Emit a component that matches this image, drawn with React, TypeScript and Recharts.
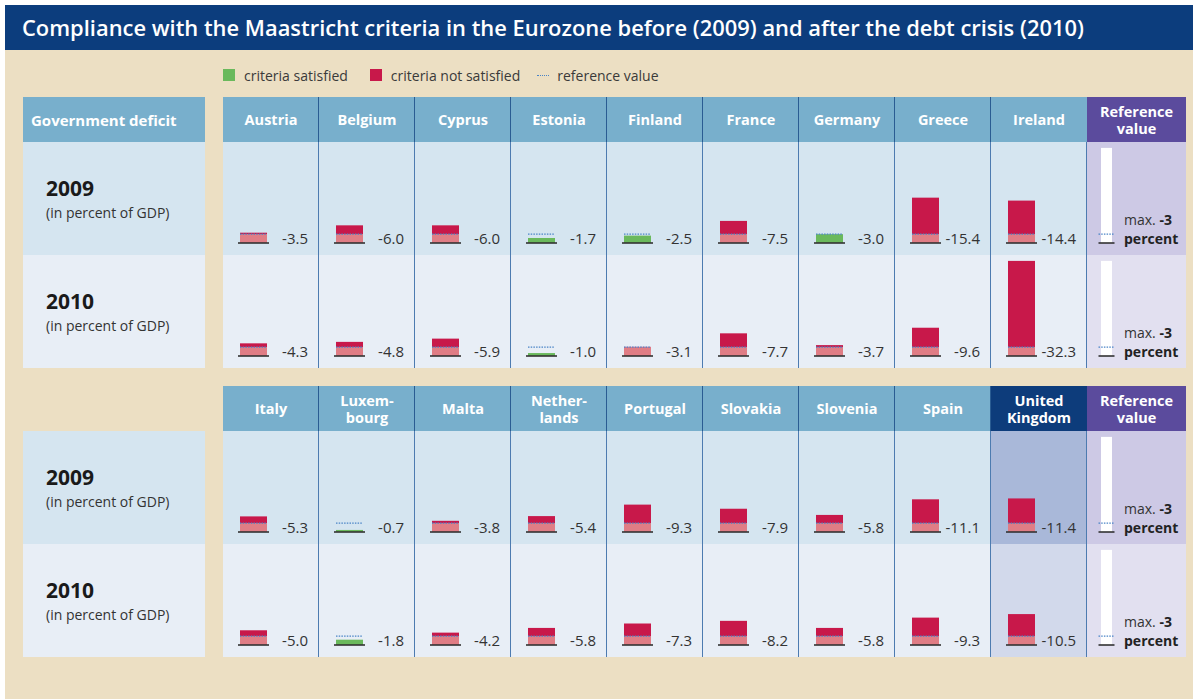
import React from 'react';
import { BarChart, Bar, XAxis, YAxis, LabelList } from 'recharts';

// ---------- data ----------
const topCountries = ['Austria', 'Belgium', 'Cyprus', 'Estonia', 'Finland', 'France', 'Germany', 'Greece', 'Ireland'];
const top2009 = [-3.5, -6.0, -6.0, -1.7, -2.5, -7.5, -3.0, -15.4, -14.4];
const top2010 = [-4.3, -4.8, -5.9, -1.0, -3.1, -7.7, -3.7, -9.6, -32.3];

const bottomCountries = ['Italy', 'Luxem-\nbourg', 'Malta', 'Nether-\nlands', 'Portugal', 'Slovakia', 'Slovenia', 'Spain', 'United\nKingdom'];
const bottom2009 = [-5.3, -0.7, -3.8, -5.4, -9.3, -7.9, -5.8, -11.1, -11.4];
const bottom2010 = [-5.0, -1.8, -4.2, -5.8, -7.3, -8.2, -5.8, -9.3, -10.5];

const yearLabels = ['2009', '2010'];
const referenceValue = -3;
const legendLabels = ['criteria satisfied', 'criteria not satisfied', 'reference value'];
const titleText = 'Compliance with the Maastricht criteria in the Eurozone before (2009) and after the debt crisis (2010)';

// ---------- styles ----------
const FONT = '"Open Sans", "Noto Sans", sans-serif';
const C = {
  title: '#0c3d7d',
  beige: '#ecdfc3',
  head: '#78afcc',
  row2009: '#d5e5f0',
  row2010: '#e8eef6',
  ukHead: '#0d3c7b',
  uk2009: '#a9b8d9',
  uk2010: '#d2d9eb',
  refHead: '#5b4b9d',
  ref2009: '#cdc9e5',
  ref2010: '#e2e0f0',
  pink: '#e07d85',
  crimson: '#c8184a',
  green: '#6ab95c',
  dots: '#4a84c6',
  base: '#333333',
  divHead: '#2a5c92',
  divRow: '#4d7bb0',
};

const COL_LEFT = 223;
const COL_W = 96;
const N = 9;
const REF_LEFT = COL_LEFT + COL_W * N;
const REF_W = 99;
const ROW_H = 113;
const HEAD_H = 45;
const Y_MAX = 34.3;
const LIMIT = Math.abs(referenceValue);
const REF_BAR = Math.max(...[...top2009, ...top2010, ...bottom2009, ...bottom2010].map((v) => Math.abs(v)));

function buildRows(names: string[], values: number[]) {
  return names.map((n, i) => {
    const a = Math.abs(values[i]);
    const ok = a <= LIMIT;
    return { name: n, value: values[i], base: Math.min(a, LIMIT), excess: Math.max(a - LIMIT, 0), ok, pad: 0 };
  });
}

const BaseShape = (props: any) => {
  const { x, y, width, height, payload } = props;
  if (!payload || !(height > 0)) return null;
  const bottom = y + height;
  const ppu = height / payload.base;
  const refY = bottom - LIMIT * ppu;
  return (
    <g>
      <rect x={x} y={y} width={width} height={height} fill={payload.ok ? C.green : C.pink} />
      {payload.ok && (
        <line x1={x} x2={x + width} y1={refY} y2={refY} stroke={C.dots} strokeWidth={1.3} strokeDasharray="1.5 1.2" />
      )}
      <line x1={x - 2} x2={x + width + 2} y1={bottom} y2={bottom} stroke={C.base} strokeWidth={1.6} />
    </g>
  );
};

const ExcessShape = (props: any) => {
  const { x, y, width, height, payload } = props;
  if (!payload || !(payload.excess > 0) || !(height > 0)) return null;
  return (
    <g>
      <rect x={x} y={y} width={width} height={height} fill={C.crimson} />
      <line x1={x} x2={x + width} y1={y + height} y2={y + height} stroke={C.dots} strokeWidth={1.3} strokeDasharray="1.5 1.2" />
    </g>
  );
};

const ValueLabel = (props: any) => {
  const vb = props.viewBox || props;
  const { x, y, height } = vb;
  const v = Number(props.value);
  return (
    <text x={x + 68} y={y + height + 1} textAnchor="end" fontSize={15} fill="#333" fontFamily={FONT}>
      {v.toFixed(1)}
    </text>
  );
};

const RefShape = (props: any) => {
  const { x, y, width, height, payload } = props;
  if (!payload || !(height > 0)) return null;
  const bottom = y + height;
  const ppu = height / payload.bar;
  const refY = bottom - payload.limit * ppu;
  return (
    <g>
      <rect x={x} y={y} width={width} height={height} fill="#ffffff" />
      <line x1={x - 2.5} x2={x + width + 2.5} y1={refY} y2={refY} stroke={C.dots} strokeWidth={1.3} strokeDasharray="1.5 1.2" />
      <line x1={x - 2.5} x2={x + width + 2.5} y1={bottom} y2={bottom} stroke={C.base} strokeWidth={1.6} />
    </g>
  );
};

const RefLabel = (props: any) => {
  const vb = props.viewBox || props;
  const { x, y, width, height } = vb;
  const tx = x + width + 12;
  const b = y + height;
  return (
    <g fontFamily={FONT} fontSize={14} fill="#333">
      <text x={tx} y={b - 18}>
        <tspan>max. </tspan>
        <tspan fontWeight={700} fill="#222">{String(referenceValue)}</tspan>
      </text>
      <text x={tx} y={b + 1} fontWeight={700} fill="#222">percent</text>
    </g>
  );
};

function CountryRow({ names, values, top }: { names: string[]; values: number[]; top: number }) {
  const data = buildRows(names, values);
  return (
    <div style={{ position: 'absolute', left: COL_LEFT, top, width: COL_W * N, height: ROW_H }}>
      <BarChart width={COL_W * N} height={ROW_H} data={data} margin={{ top: 0, right: 0, bottom: 12, left: 0 }} barGap={8} barSize={27}>
        <XAxis dataKey="name" hide />
        <YAxis hide domain={[0, Y_MAX]} type="number" />
        <Bar dataKey="base" stackId="a" isAnimationActive={false} shape={BaseShape}>
          <LabelList dataKey="value" content={ValueLabel} />
        </Bar>
        <Bar dataKey="excess" stackId="a" isAnimationActive={false} shape={ExcessShape} />
        <Bar dataKey="pad" isAnimationActive={false} fill="none" />
      </BarChart>
    </div>
  );
}

function RefRow({ top }: { top: number }) {
  const data = [{ name: 'Reference value', bar: REF_BAR, limit: LIMIT }];
  return (
    <div style={{ position: 'absolute', left: REF_LEFT, top, width: REF_W, height: ROW_H }}>
      <BarChart width={REF_W} height={ROW_H} data={data} margin={{ top: 0, right: 61, bottom: 12, left: 0 }} barSize={11}>
        <XAxis dataKey="name" hide />
        <YAxis hide domain={[0, Y_MAX]} type="number" />
        <Bar dataKey="bar" isAnimationActive={false} shape={RefShape}>
          <LabelList dataKey="limit" content={RefLabel} />
        </Bar>
      </BarChart>
    </div>
  );
}

function HeaderText({ text, color = '#fff' }: { text: string; color?: string }) {
  const lines = text.split('\n');
  return (
    <div style={{ color, fontWeight: 700, fontSize: 14.5, lineHeight: '17px', textAlign: 'center' }}>
      {lines.map((l, i) => (
        <div key={i}>{l}</div>
      ))}
    </div>
  );
}

function Panel({ headTop, names, rows, ukHighlight, leftHeader }: { headTop: number; names: string[]; rows: number[][]; ukHighlight: boolean; leftHeader: boolean }) {
  const rowTops = [headTop + HEAD_H, headTop + HEAD_H + ROW_H];
  const rowColors = [C.row2009, C.row2010];
  const ukColors = [C.uk2009, C.uk2010];
  const refColors = [C.ref2009, C.ref2010];
  const els: React.ReactNode[] = [];
  if (leftHeader) {
    els.push(
      <div key="lh" style={{ position: 'absolute', left: 23, top: headTop, width: 182, height: HEAD_H, background: C.head, display: 'flex', alignItems: 'center' }}>
        <div style={{ color: '#fff', fontWeight: 700, fontSize: 15, marginLeft: 8 }}>Government deficit</div>
      </div>
    );
  }
  rowTops.forEach((t, r) => {
    els.push(
      <div key={'ly' + r} style={{ position: 'absolute', left: 23, top: t, width: 182, height: ROW_H, background: rowColors[r] }}>
        <div style={{ position: 'absolute', left: 23, top: 35, fontSize: 21, fontWeight: 700, color: '#1a1a1a', lineHeight: '22px' }}>{yearLabels[r]}</div>
        <div style={{ position: 'absolute', left: 23, top: 61, fontSize: 14, color: '#333', lineHeight: '19px' }}>(in percent of GDP)</div>
      </div>
    );
  });
  names.forEach((n, i) => {
    const isUk = ukHighlight && i === N - 1;
    els.push(
      <div key={'h' + i} style={{ position: 'absolute', left: COL_LEFT + COL_W * i, top: headTop, width: COL_W, height: HEAD_H, background: isUk ? C.ukHead : C.head, display: 'flex', alignItems: 'center', justifyContent: 'center' }}>
        <HeaderText text={n} />
      </div>
    );
  });
  els.push(
    <div key="rh" style={{ position: 'absolute', left: REF_LEFT, top: headTop, width: REF_W, height: HEAD_H, background: C.refHead, display: 'flex', alignItems: 'center', justifyContent: 'center' }}>
      <HeaderText text={'Reference\nvalue'} />
    </div>
  );
  rowTops.forEach((t, r) => {
    els.push(<div key={'rb' + r} style={{ position: 'absolute', left: COL_LEFT, top: t, width: COL_W * N, height: ROW_H, background: rowColors[r] }} />);
    if (ukHighlight) {
      els.push(<div key={'uk' + r} style={{ position: 'absolute', left: COL_LEFT + COL_W * (N - 1), top: t, width: COL_W, height: ROW_H, background: ukColors[r] }} />);
    }
    els.push(<div key={'rf' + r} style={{ position: 'absolute', left: REF_LEFT, top: t, width: REF_W, height: ROW_H, background: refColors[r] }} />);
  });
  for (let i = 1; i < N; i++) {
    els.push(<div key={'dh' + i} style={{ position: 'absolute', left: COL_LEFT + COL_W * i - 1, top: headTop, width: 1, height: HEAD_H, background: C.divHead }} />);
  }
  for (let i = 1; i <= N; i++) {
    els.push(<div key={'dr' + i} style={{ position: 'absolute', left: COL_LEFT + COL_W * i - 1, top: headTop + HEAD_H, width: 1, height: ROW_H * 2, background: C.divRow }} />);
  }
  rowTops.forEach((t, r) => {
    els.push(<CountryRow key={'cr' + r} names={names} values={rows[r]} top={t} />);
    els.push(<RefRow key={'rr' + r} top={t} />);
  });
  return <>{els}</>;
}

export default function App() {
  return (
    <div style={{ position: 'absolute', left: 0, top: 0, width: 1198, height: 699, background: '#fff', fontFamily: FONT, overflow: 'hidden' }}>
      <div style={{ position: 'absolute', left: 5, top: 50, width: 1188, height: 649, background: C.beige }} />
      <div style={{ position: 'absolute', left: 5, top: 5, width: 1188, height: 45, background: C.title, display: 'flex', alignItems: 'center' }}>
        <div style={{ marginLeft: 17, color: '#fff', fontWeight: 600, fontSize: 21.9, whiteSpace: 'nowrap' }}>{titleText}</div>
      </div>
      <div style={{ position: 'absolute', left: 223, top: 66, height: 18, display: 'flex', alignItems: 'center', fontSize: 14, color: '#3a3a3a', whiteSpace: 'nowrap' }}>
        <div style={{ width: 12, height: 12, background: C.green, marginRight: 9 }} />
        <span style={{ marginRight: 22 }}>{legendLabels[0]}</span>
        <div style={{ width: 12, height: 12, background: C.crimson, marginRight: 9 }} />
        <span style={{ marginRight: 17 }}>{legendLabels[1]}</span>
        <div style={{ width: 12, height: 0, borderTop: '1.5px dotted ' + C.dots, marginRight: 8 }} />
        <span>{legendLabels[2]}</span>
      </div>
      <Panel headTop={97} names={topCountries} rows={[top2009, top2010]} ukHighlight={false} leftHeader={true} />
      <Panel headTop={386} names={bottomCountries} rows={[bottom2009, bottom2010]} ukHighlight={true} leftHeader={false} />
    </div>
  );
}
